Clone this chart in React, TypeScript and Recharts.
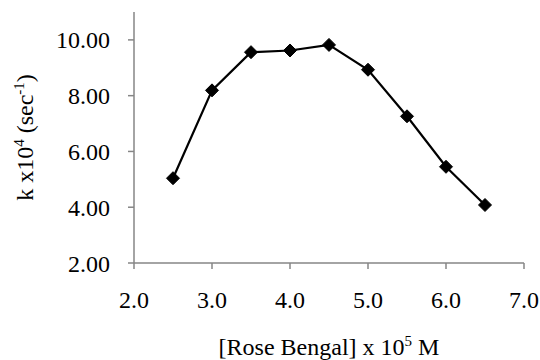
import React from "react";
import { LineChart, Line, XAxis, YAxis, Label } from "recharts";

const concentration = [2.5, 3.0, 3.5, 4.0, 4.5, 5.0, 5.5, 6.0, 6.5];
const rateConstant = [5.04, 8.19, 9.56, 9.62, 9.82, 8.93, 7.26, 5.45, 4.08];
const xTicks = [2, 3, 4, 5, 6, 7];
const yTicks = [2, 4, 6, 8, 10];

const data = concentration.map((c, i) => ({ c, k: rateConstant[i] }));

const FONT = '"Liberation Serif", "Times New Roman", "DejaVu Serif", serif';
const AXIS = "#868686";
const textStyle = { fontFamily: FONT, fontSize: 24 };

const Diamond = ({ cx, cy }: any) => {
  if (cx == null || cy == null) return null;
  const r = 6.5;
  return (
    <polygon
      points={`${cx},${cy - r} ${cx + r},${cy} ${cx},${cy + r} ${cx - r},${cy}`}
      fill="#000"
      stroke="#000"
      strokeWidth={1}
    />
  );
};

const XTick = ({ x, y, payload }: any) => (
  <text x={x} y={y} dy="0.71em" textAnchor="middle" style={textStyle} fill="#000">
    {Number(payload.value).toFixed(1)}
  </text>
);

const YTick = ({ x, y, payload }: any) => (
  <text x={x} y={y} dy="0.355em" textAnchor="end" style={textStyle} fill="#000">
    {Number(payload.value).toFixed(2)}
  </text>
);

const YTitle = ({ viewBox }: any) => {
  const cy = viewBox.y + viewBox.height / 2;
  const x = 33;
  return (
    <text
      x={x}
      y={cy}
      transform={`rotate(-90, ${x}, ${cy})`}
      textAnchor="middle"
      style={textStyle}
      fill="#000"
    >
      k x10
      <tspan style={{ fontSize: 15 }} dy={-9}>4</tspan>
      <tspan dy={9}> (sec</tspan>
      <tspan style={{ fontSize: 15 }} dy={-9}>-1</tspan>
      <tspan dy={9}>)</tspan>
    </text>
  );
};

const XTitle = ({ viewBox }: any) => {
  const cx = viewBox.x + viewBox.width / 2;
  return (
    <text x={cx} y={355} textAnchor="middle" style={textStyle} fill="#000">
      [Rose Bengal] x 10
      <tspan style={{ fontSize: 15 }} dy={-9}>5</tspan>
      <tspan dy={9}> M</tspan>
    </text>
  );
};

export default function App() {
  return (
    <div
      style={{ position: "absolute", left: 0, top: 0, width: 540, height: 360, background: "#fff", fontFamily: FONT }}
    >
      <LineChart width={540} height={360} data={data} margin={{ top: 12, right: 16, left: 0, bottom: 0 }}>
        <XAxis
          dataKey="c"
          type="number"
          domain={[2, 7]}
          ticks={xTicks}
          height={97}
          tickSize={6}
          tickMargin={22}
          stroke={AXIS}
          strokeWidth={1.5}
          tick={<XTick />}
          interval={0}
        >
          <Label content={<XTitle />} />
        </XAxis>
        <YAxis
          type="number"
          domain={[2, 11]}
          ticks={yTicks}
          width={134}
          tickSize={6}
          tickMargin={18}
          stroke={AXIS}
          strokeWidth={1.5}
          tick={<YTick />}
          interval={0}
        >
          <Label content={<YTitle />} />
        </YAxis>
        <Line
          type="linear"
          dataKey="k"
          stroke="#000"
          strokeWidth={2.2}
          dot={<Diamond />}
          activeDot={false}
          isAnimationActive={false}
        />
      </LineChart>
    </div>
  );
}
